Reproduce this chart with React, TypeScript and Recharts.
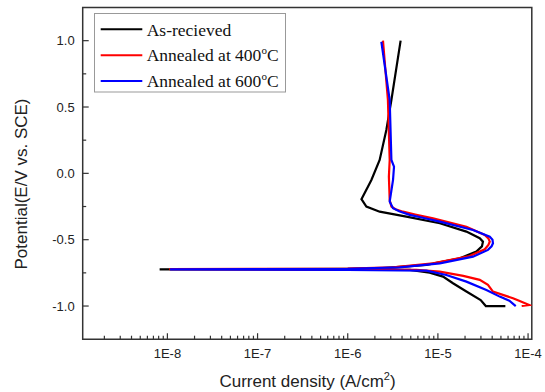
import React from 'react';
import { LineChart, Line, XAxis, YAxis, ReferenceArea } from 'recharts';

// Current density (A/cm^2) and potential (V vs SCE), in scan order
const blackI = [5.6e-5, 3.4e-5, 2.98e-5, 2.07e-5, 1.47e-5, 1.14e-5, 8.1e-6, 4.9e-6, 1.0e-6, 1.0e-7, 8.2e-9, 1.0e-7, 1.0e-6, 2.46e-6, 7.45e-6, 1.75e-5, 2.67e-5, 3.08e-5, 3.16e-5, 2.91e-5, 2.07e-5, 1.05e-5, 4.47e-6, 2.26e-6, 1.61e-6, 1.42e-6, 1.83e-6, 2.26e-6, 2.68e-6, 3.05e-6, 3.86e-6];
const blackE = [-1.0, -1.0, -0.955, -0.891, -0.828, -0.778, -0.748, -0.728, -0.725, -0.724, -0.723, -0.721, -0.72, -0.715, -0.69, -0.64, -0.59, -0.55, -0.515, -0.489, -0.439, -0.376, -0.326, -0.289, -0.251, -0.195, -0.05, 0.101, 0.327, 0.553, 1.0];

const redI = [8.5e-5, 1.03e-4, 7.6e-5, 6.8e-5, 4.08e-5, 3.59e-5, 2.91e-5, 1.91e-5, 1.05e-5, 5.75e-6, 1.0e-6, 1.05e-8, 1.0e-6, 3.18e-6, 8.83e-6, 2.25e-5, 3.31e-5, 3.63e-5, 3.76e-5, 3.63e-5, 3.31e-5, 2.07e-5, 8.83e-6, 5.6e-6, 4.1e-6, 3.39e-6, 3.05e-6, 2.92e-6, 2.86e-6, 2.92e-6, 2.79e-6, 2.46e-6];
const redE = [-1.0, -0.992, -0.955, -0.941, -0.891, -0.841, -0.803, -0.773, -0.741, -0.728, -0.726, -0.722, -0.718, -0.708, -0.678, -0.623, -0.572, -0.54, -0.515, -0.49, -0.464, -0.402, -0.339, -0.31, -0.289, -0.27, -0.251, -0.201, -0.025, 0.101, 0.553, 1.0];

const blueI = [7.3e-5, 6.2e-5, 4.85e-5, 3.45e-5, 2.07e-5, 1.24e-5, 7.45e-6, 1.0e-6, 1.07e-8, 1.0e-6, 3.77e-6, 1.05e-5, 2.45e-5, 3.59e-5, 3.94e-5, 4.08e-5, 4.03e-5, 3.76e-5, 2.45e-5, 1.05e-5, 6.8e-6, 4.86e-6, 3.72e-6, 3.18e-6, 2.92e-6, 3.18e-6, 3.26e-6, 3.05e-6, 2.92e-6, 2.36e-6];
const blueE = [-1.0, -0.96, -0.929, -0.879, -0.816, -0.766, -0.733, -0.727, -0.723, -0.719, -0.708, -0.678, -0.628, -0.577, -0.55, -0.527, -0.5, -0.477, -0.427, -0.364, -0.335, -0.313, -0.285, -0.263, -0.213, -0.05, 0.05, 0.101, 0.553, 0.992];

const seriesNames = ['As-recieved', 'Annealed at 400', 'Annealed at 600'];
const seriesColors = ['#000000', '#ff0000', '#0000ff'];

const xMajor = [1e-8, 1e-7, 1e-6, 1e-5, 1e-4];
const xMajorLabels = ['1E-8', '1E-7', '1E-6', '1E-5', '1E-4'];
const xMinor = [2e-9, 3e-9, 4e-9, 5e-9, 6e-9, 7e-9, 8e-9, 9e-9, 2e-8, 3e-8, 4e-8, 5e-8, 6e-8, 7e-8, 8e-8, 9e-8, 2e-7, 3e-7, 4e-7, 5e-7, 6e-7, 7e-7, 8e-7, 9e-7, 2e-6, 3e-6, 4e-6, 5e-6, 6e-6, 7e-6, 8e-6, 9e-6, 2e-5, 3e-5, 4e-5, 5e-5, 6e-5, 7e-5, 8e-5, 9e-5];
const yMajor = [-1.0, -0.5, 0.0, 0.5, 1.0];
const yMajorLabels = ['-1.0', '-0.5', '0.0', '0.5', '1.0'];
const yMinor = [-0.75, -0.25, 0.25, 0.75];

const xDomain: [number, number] = [1.15e-9, 1.1e-4];
const yDomain: [number, number] = [-1.25, 1.25];

const toData = (xs: number[], ys: number[]) => xs.map((v, k) => ({ i: v, e: ys[k] }));
const blackData = toData(blackI, blackE);
const redData = toData(redI, redE);
const blueData = toData(blueI, blueE);

const X_MARGIN = 8;
const Y_MARGIN = 8;
const AXIS = '#333333';
const TXT = '#222222';

const XTick = (props: any) => {
  const { x, y, payload } = props;
  const v = payload.value;
  const idx = xMajor.findIndex((m) => Math.abs(Math.log10(m) - Math.log10(v)) < 1e-6);
  const axisY = y - X_MARGIN;
  const len = idx >= 0 ? 6 : 3.5;
  return (
    <g>
      <line x1={x} x2={x} y1={axisY} y2={axisY - len} stroke={AXIS} strokeWidth={1.2} />
      {idx >= 0 && (
        <text x={x} y={axisY + 19} textAnchor="middle" fontSize={13} fill={TXT} fontFamily="'Liberation Sans', Arial, sans-serif">
          {xMajorLabels[idx]}
        </text>
      )}
    </g>
  );
};

const YTick = (props: any) => {
  const { x, y, payload } = props;
  const v = payload.value;
  const idx = yMajor.findIndex((m) => Math.abs(m - v) < 1e-6);
  const axisX = x + Y_MARGIN;
  const len = idx >= 0 ? 6 : 3.5;
  return (
    <g>
      <line x1={axisX} x2={axisX + len} y1={y} y2={y} stroke={AXIS} strokeWidth={1.2} />
      {idx >= 0 && (
        <text x={axisX - 8} y={y + 4.6} textAnchor="end" fontSize={13} fill={TXT} fontFamily="'Liberation Sans', Arial, sans-serif">
          {yMajorLabels[idx]}
        </text>
      )}
    </g>
  );
};

const legendRows = [29.3, 55.2, 81];

export default function App() {
  return (
    <div style={{ position: 'absolute', left: 0, top: 0, width: 545, height: 392, background: '#fff' }}>
      <LineChart width={545} height={392} margin={{ top: 7.5, right: 13.2, bottom: 0, left: 0 }}>
        <XAxis
          dataKey="i"
          type="number"
          scale="log"
          domain={xDomain}
          allowDataOverflow
          ticks={[...xMajor, ...xMinor]}
          interval={0}
          tick={<XTick />}
          tickLine={false}
          axisLine={false}
          tickSize={0}
          tickMargin={X_MARGIN}
          height={52.8}
        />
        <YAxis
          dataKey="e"
          type="number"
          domain={yDomain}
          allowDataOverflow
          ticks={[...yMajor, ...yMinor]}
          interval={0}
          tick={<YTick />}
          tickLine={false}
          axisLine={false}
          tickSize={0}
          tickMargin={Y_MARGIN}
          width={82.7}
        />
        <ReferenceArea x1={xDomain[0]} x2={xDomain[1]} y1={yDomain[0]} y2={yDomain[1]} fill="none" fillOpacity={0} stroke={AXIS} strokeWidth={1.5} ifOverflow="visible" />
        <Line data={blackData} dataKey="e" stroke={seriesColors[0]} strokeWidth={2.2} dot={false} type="linear" isAnimationActive={false} />
        <Line data={redData} dataKey="e" stroke={seriesColors[1]} strokeWidth={2.2} dot={false} type="linear" isAnimationActive={false} />
        <Line data={blueData} dataKey="e" stroke={seriesColors[2]} strokeWidth={2.2} dot={false} type="linear" isAnimationActive={false} />
      </LineChart>
      <svg width={545} height={392} style={{ position: 'absolute', left: 0, top: 0, pointerEvents: 'none' }}>
        <rect x={94.5} y={13.5} width={191} height={78.5} fill="#fff" stroke="#999" strokeWidth={1} />
        {seriesNames.map((name, k) => (
          <g key={name}>
            <line x1={100.7} x2={142.3} y1={legendRows[k]} y2={legendRows[k]} stroke={seriesColors[k]} strokeWidth={2} />
            <text x={146.7} y={legendRows[k] + 6.2} fontSize={17.5} fill="#111" fontFamily="'Liberation Serif', 'Times New Roman', serif">
              {name}
              {k > 0 && (
                <>
                  <tspan dy={-7} fontSize={11}>o</tspan>
                  <tspan dy={7}>C</tspan>
                </>
              )}
            </text>
          </g>
        ))}
        <text x={307.5} y={387} textAnchor="middle" fontSize={17} fill={TXT} fontFamily="'Liberation Sans', Arial, sans-serif">
          Current density (A/cm<tspan dy={-7} fontSize={11}>2</tspan><tspan dy={7}>)</tspan>
        </text>
        <text x={26.5} y={184} transform="rotate(-90 26.5 184)" textAnchor="middle" fontSize={17} fill={TXT} fontFamily="'Liberation Sans', Arial, sans-serif">
          Potential(E/V vs. SCE)
        </text>
      </svg>
    </div>
  );
}
